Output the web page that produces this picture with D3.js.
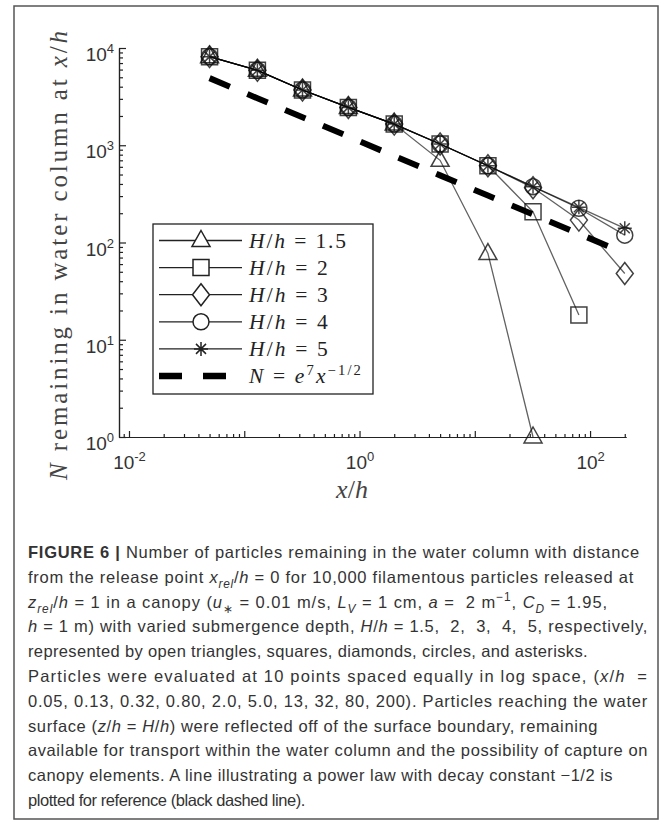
<!DOCTYPE html>
<html>
<head>
<meta charset="utf-8">
<script src="https://cdn.jsdelivr.net/npm/d3@7"></script>
<style>
  html, body { margin: 0; padding: 0; background: #fff; }
  svg { display: block; }
  text { white-space: pre; }
</style>
</head>
<body>
<svg id="fig" width="669" height="823"></svg>
<script>
// ── values ────────────────────────────────────────────────────────────────
const xh    = [0.05, 0.13, 0.32, 0.80, 2.0, 5.0, 13, 32, 80, 200];
const nH15  = [8150, 5900, 3700, 2450, 1650, 700, 77, 1];
const nH2   = [8150, 5900, 3700, 2450, 1650, 1030, 615, 207, 18];
const nH3   = [8150, 5900, 3700, 2450, 1650, 1030, 615, 365, 170, 48];
const nH4   = [8150, 5900, 3700, 2450, 1650, 1030, 615, 375, 225, 119];
const nH5   = [8150, 5900, 3700, 2450, 1650, 1030, 615, 375, 230, 140];
const nRef  = [4900, 3040, 1940, 1230, 775, 490, 304, 194, 123, 77.5];
const hLabels = ['1.5', '2', '3', '4', '5'];
const markers = ['triangle', 'square', 'diamond', 'circle', 'asterisk'];
const xMajor  = [1e-2, 1e0, 1e2];
const yMajor  = [1e0, 1e1, 1e2, 1e3, 1e4];

const captionLines = [
  [['FIGURE 6 | ', 'b'], ['Number of particles remaining in the water column with distance']],
  [['from the release point '], ['x', 'i'], ['rel', 'subi'], ['/'], ['h', 'i'], [' = 0 for 10,000 filamentous particles released at']],
  [['z', 'i'], ['rel', 'subi'], ['/'], ['h', 'i'], [' = 1 in a canopy ('], ['u', 'i'], ['\u2217', 'sub'], [' = 0.01 m/s, '],
   ['L', 'i'], ['V', 'subi'], [' = 1 cm, '], ['a', 'i'], [' =  2 m'], ['\u22121', 'sup'], [', '], ['C', 'i'], ['D', 'subi'], [' = 1.95,']],
  [['h', 'i'], [' = 1 m) with varied submergence depth, '], ['H', 'i'], ['/'], ['h', 'i'], [' = 1.5,  2,  3,  4,  5, respectively,']],
  [['represented by open triangles, squares, diamonds, circles, and asterisks.']],
  [['Particles were evaluated at 10 points spaced equally in log space, ('], ['x', 'i'], ['/'], ['h', 'i'], ['  =']],
  [['0.05, 0.13, 0.32, 0.80, 2.0, 5.0, 13, 32, 80, 200). Particles reaching the water']],
  [['surface ('], ['z', 'i'], ['/'], ['h', 'i'], [' = '], ['H', 'i'], ['/'], ['h', 'i'], [') were reflected off of the surface boundary, remaining']],
  [['available for transport within the water column and the possibility of capture on']],
  [['canopy elements. A line illustrating a power law with decay constant \u22121/2 is']],
  [['plotted for reference (black dashed line).']]
];
const captionEnds = [640, 634, 608, 648, 588, 648, 648, 598, 648, 613, 305];

// ── layout ────────────────────────────────────────────────────────────────
const svg = d3.select('#fig');
const SERIF = '"Liberation Serif", "DejaVu Serif", serif';
const SANS  = '"Liberation Sans", Arial, sans-serif';

const x = d3.scaleLog().domain([0.00819, 205]).range([119, 626]);
const y = d3.scaleLog().domain([1, 1e4]).range([437, 48]);

// outer frame
svg.append('rect').attr('x', 14).attr('y', 6).attr('width', 644).attr('height', 813)
  .attr('fill', 'none').attr('stroke', '#555').attr('stroke-width', 1.5);

// append rich text segments to a <text>
function richText(t, segs, base, supShift = 0.42, small = 0.72) {
  let off = 0;
  segs.forEach(([str, st]) => {
    const sp = t.append('tspan').text(str);
    let target = 0;
    if (st === 'b') sp.attr('font-weight', 'bold');
    if (st === 'i' || st === 'subi') sp.attr('font-style', 'italic');
    if (st === 'sub' || st === 'subi') { target = base * 0.3; sp.attr('font-size', base * small); }
    if (st === 'sup') { target = -base * supShift; sp.attr('font-size', base * small); }
    if (target !== off) { sp.attr('dy', target - off); off = target; }
  });
}

function fitWidth(t, target) {
  const node = t.node();
  const w = node.getComputedTextLength();
  const n = node.getNumberOfChars();
  t.attr('letter-spacing', ((target - w) / n).toFixed(3));
}

const isDecade = v => Math.abs(Math.log10(v) - Math.round(Math.log10(v))) < 1e-6;

// ── axes ──────────────────────────────────────────────────────────────────
const gx = svg.append('g').attr('transform', `translate(0,${y(1)})`);
gx.append('g').call(d3.axisBottom(x).tickValues(x.ticks().filter(v => !isDecade(v)))
  .tickSize(-3).tickSizeOuter(0).tickFormat(''));
gx.append('g').call(d3.axisBottom(x).tickValues(x.ticks().filter(isDecade))
  .tickSize(-6).tickSizeOuter(0).tickFormat(''));
gx.append('g').call(d3.axisBottom(x).tickValues(xMajor).tickSize(0).tickSizeOuter(0))
  .call(g => g.select('.domain').remove())
  .call(g => g.selectAll('.tick text').each(function (d) {
    const t = d3.select(this).text('').attr('y', 32).attr('dy', null)
      .attr('font-family', SANS).attr('font-size', 19).attr('fill', '#333');
    t.append('tspan').text('10');
    t.append('tspan').attr('dy', -8).attr('font-size', 13).text(Math.round(Math.log10(d)));
  }));

const gy = svg.append('g').attr('transform', `translate(${x.range()[0]},0)`);
gy.append('g').call(d3.axisLeft(y).tickValues(y.ticks().filter(v => !isDecade(v)))
  .tickSize(-4).tickSizeOuter(0).tickFormat(''));
gy.append('g').call(d3.axisLeft(y).tickValues(yMajor).tickSize(-7).tickSizeOuter(0))
  .call(g => g.selectAll('.tick text').each(function (d) {
    const t = d3.select(this).text('').attr('x', -5).attr('y', 12.5).attr('dy', null)
      .attr('font-family', SANS).attr('font-size', 19).attr('fill', '#333');
    t.append('tspan').text('10');
    t.append('tspan').attr('dy', -8).attr('font-size', 13).text(Math.round(Math.log10(d)));
  }));

svg.selectAll('.domain, .tick line').attr('stroke', '#222').attr('stroke-width', 1.2);

// axis titles
const yl = svg.append('text').attr('transform', 'translate(67,254) rotate(-90)')
  .attr('text-anchor', 'middle').attr('font-family', SERIF).attr('font-size', 25).attr('fill', '#444');
richText(yl, [['N', 'i'], [' remaining in water column at '], ['x', 'i'], ['/'], ['h', 'i']], 25);
fitWidth(yl, 452);

const xl = svg.append('text').attr('x', 352).attr('y', 498).attr('text-anchor', 'middle')
  .attr('font-family', SERIF).attr('font-size', 26).attr('fill', '#444');
richText(xl, [['x', 'i'], ['/'], ['h', 'i']], 26);

// ── markers ───────────────────────────────────────────────────────────────
function markerPath(type) {
  const p = d3.path();
  if (type === 'triangle') { p.moveTo(0, -10); p.lineTo(9, 6); p.lineTo(-9, 6); p.closePath(); }
  if (type === 'square')   { p.rect(-8, -8, 16, 16); }
  if (type === 'diamond')  { p.moveTo(0, -11); p.lineTo(8.5, 0); p.lineTo(0, 11); p.lineTo(-8.5, 0); p.closePath(); }
  if (type === 'circle')   { p.moveTo(8, 0); p.arc(0, 0, 8, 0, 2 * Math.PI); }
  if (type === 'asterisk') {
    const a = 7, b = 5;
    p.moveTo(0, -a); p.lineTo(0, a); p.moveTo(-a, 0); p.lineTo(a, 0);
    p.moveTo(-b, -b); p.lineTo(b, b); p.moveTo(-b, b); p.lineTo(b, -b);
  }
  return p.toString();
}

const line = d3.line().x((d, i) => x(xh[i])).y(d => y(d));
const seriesN = [nH15, nH2, nH3, nH4, nH5];

const plot = svg.append('g');
seriesN.forEach(vals => {
  plot.append('path').attr('d', line(vals)).attr('fill', 'none')
    .attr('stroke', '#000').attr('stroke-opacity', 0.62).attr('stroke-width', 1.3);
});
seriesN.forEach((vals, k) => {
  plot.append('g').selectAll('path').data(vals).join('path')
    .attr('transform', (d, i) => `translate(${x(xh[i])},${y(d)})`)
    .attr('d', markerPath(markers[k]))
    .attr('fill', 'none').attr('stroke', '#111').attr('stroke-opacity', 0.8).attr('stroke-width', 1.5);
});

// power-law reference line
plot.append('path').attr('d', line(nRef)).attr('fill', 'none')
  .attr('stroke', '#000').attr('stroke-width', 6).attr('stroke-dasharray', '22,19');

// ── legend ────────────────────────────────────────────────────────────────
const lg = svg.append('g');
lg.append('rect').attr('x', 153).attr('y', 224).attr('width', 220).attr('height', 170)
  .attr('fill', '#fff').attr('stroke', '#222').attr('stroke-width', 1.3);
const rowY = i => 240.5 + 27.1 * i;
const legendEnds = [348, 330, 330, 330, 330, 363];
const LFS = 21.5;
hLabels.forEach((h, i) => {
  lg.append('line').attr('x1', 159).attr('x2', 242).attr('y1', rowY(i)).attr('y2', rowY(i))
    .attr('stroke', '#222').attr('stroke-width', 1.3);
  lg.append('path').attr('transform', `translate(201,${rowY(i)})`).attr('d', markerPath(markers[i]))
    .attr('fill', i === 4 ? 'none' : '#fff').attr('stroke', '#222').attr('stroke-width', 1.5);
  const t = lg.append('text').attr('x', 249).attr('y', rowY(i) + 7)
    .attr('font-family', SERIF).attr('font-size', LFS).attr('fill', '#222');
  richText(t, [['H', 'i'], ['/'], ['h', 'i'], [' = ' + h]], LFS);
  fitWidth(t, legendEnds[i] - 249);
});
lg.append('line').attr('x1', 159).attr('x2', 242).attr('y1', rowY(5)).attr('y2', rowY(5))
  .attr('stroke', '#000').attr('stroke-width', 6.5).attr('stroke-dasharray', '23,21');
const tr = lg.append('text').attr('x', 249).attr('y', rowY(5) + 7)
  .attr('font-family', SERIF).attr('font-size', LFS).attr('fill', '#222');
richText(tr, [['N', 'i'], [' = '], ['e', 'i'], ['7', 'sup'], ['x', 'i'], ['\u22121/2', 'sup']], LFS, 0.36, 0.68);
fitWidth(tr, legendEnds[5] - 249);

// ── caption ───────────────────────────────────────────────────────────────
captionLines.forEach((segs, i) => {
  const t = svg.append('text').attr('x', 28).attr('y', 558 + 24.8 * i)
    .attr('font-family', SANS).attr('font-size', 16.5).attr('fill', '#333');
  richText(t, segs, 16.5);
  fitWidth(t, captionEnds[i] - 28);
});
</script>
</body>
</html>
